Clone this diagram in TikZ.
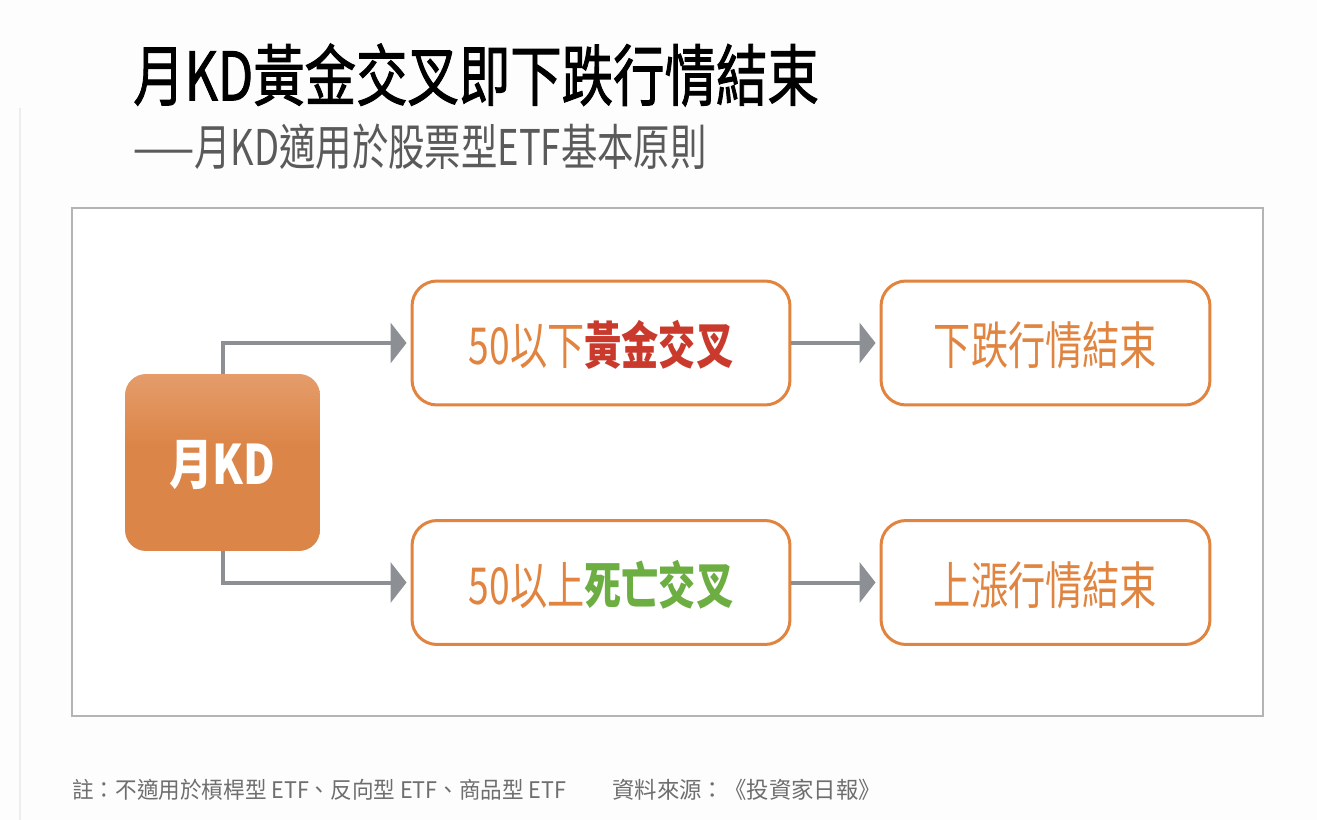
\documentclass[tikz,border=0pt]{standalone}
\usepackage{fontspec}
\usetikzlibrary{arrows.meta}
\newfontfamily\cjk{Noto Sans CJK TC}
\newfontfamily\cjkmed[FakeBold=1.6]{Noto Sans CJK TC}
\definecolor{bgc}{HTML}{FDFDFD}
\definecolor{framec}{HTML}{B4B4B4}
\definecolor{orangec}{HTML}{E0843F}
\definecolor{kdorange}{HTML}{DC8548}
\definecolor{kdlight}{HTML}{E6A070}
\definecolor{kdpale}{HTML}{FAEADC}
\definecolor{redc}{HTML}{C93A2C}
\definecolor{greenc}{HTML}{6CAE42}
\definecolor{arrowc}{HTML}{8C8F94}
\definecolor{subc}{HTML}{5A5A5A}
\definecolor{footc}{HTML}{6E6E6E}
\pgfdeclareverticalshading{kdshade}{100bp}{color(0bp)=(kdorange); color(55bp)=(kdorange); color(78bp)=(kdlight); color(89bp)=(kdpale); color(93bp)=(kdpale); color(97bp)=(kdlight); color(100bp)=(kdorange)}
\tikzset{
  optbox/.style={draw=orangec, line width=0.06cm, rounded corners=0.5cm, fill=white,
    minimum height=2.48cm, inner sep=0pt},
  boxtext/.style={font=\cjk\fontsize{29}{32}\selectfont, text=orangec, xscale=0.73, inner sep=0pt},
  conn/.style={draw=arrowc, line width=0.08cm, -{Triangle[length=0.32cm, width=0.8cm]}, shorten >=0.08cm},
  foot/.style={anchor=west, inner sep=0pt, text=footc, font=\cjk\fontsize{13}{15}\selectfont},
}
\begin{document}
\begin{tikzpicture}[x=0.02cm, y=-0.02cm]
\useasboundingbox (0,0) rectangle (1317,820);
\fill[bgc] (0,0) rectangle (1317,820);
\draw[color=black!7, line width=0.03cm] (20,108) -- (20,820);
% title
\node[anchor=west, inner sep=0pt, xscale=0.77, font=\cjkmed\fontsize{38}{42}\selectfont] (title) at (133,75) {月KD黃金交叉即下跌行情結束};
\node[anchor=west, inner sep=0pt, xscale=0.74, text=subc, font=\cjk\fontsize{28}{32}\selectfont] (sub) at (133,147) {——月KD適用於股票型ETF基本原則};
% frame
\draw[framec, line width=0.03cm, fill=white] (72,208) rectangle (1263,716);
% KD box
\node[shade, shading=kdshade, rounded corners=0.42cm, minimum width=3.9cm, minimum height=3.54cm, inner sep=0pt] (kd) at (222.5,462.5) {};
\node[text=white, font=\cjk\bfseries\fontsize{31}{34}\selectfont, xscale=0.8, inner sep=0pt] (kdt) at (222.5,465) {月KD};
% option boxes
\node[optbox, minimum width=7.56cm] (b1) at (601,343) {};
\node[optbox, minimum width=7.56cm] (b2) at (601,582.5) {};
\node[optbox, minimum width=6.58cm] (c1) at (1045.5,343) {};
\node[optbox, minimum width=6.58cm] (c2) at (1045.5,582.5) {};
\node[boxtext] (t1) at (601,345) {50以下\textcolor{redc}{\bfseries 黃金交叉}};
\node[boxtext] (t2) at (601,585) {50以上\textcolor{greenc}{\bfseries 死亡交叉}};
\node[boxtext] (t3) at (1045.5,345) {下跌行情結束};
\node[boxtext] (t4) at (1045.5,585) {上漲行情結束};
% connectors
\draw[conn] (kd.north) |- (b1.west);
\draw[conn] (kd.south) |- (b2.west);
\draw[conn] (b1.east) -- (c1.west);
\draw[conn] (b2.east) -- (c2.west);
% footer
\node[foot, xscale=0.945] (note) at (72,790) {註：不適用於槓桿型 ETF、反向型 ETF、商品型 ETF};
\node[foot, xscale=0.98] (src) at (612,790) {資料來源：《投資家日報》};
\end{tikzpicture}
\end{document}
